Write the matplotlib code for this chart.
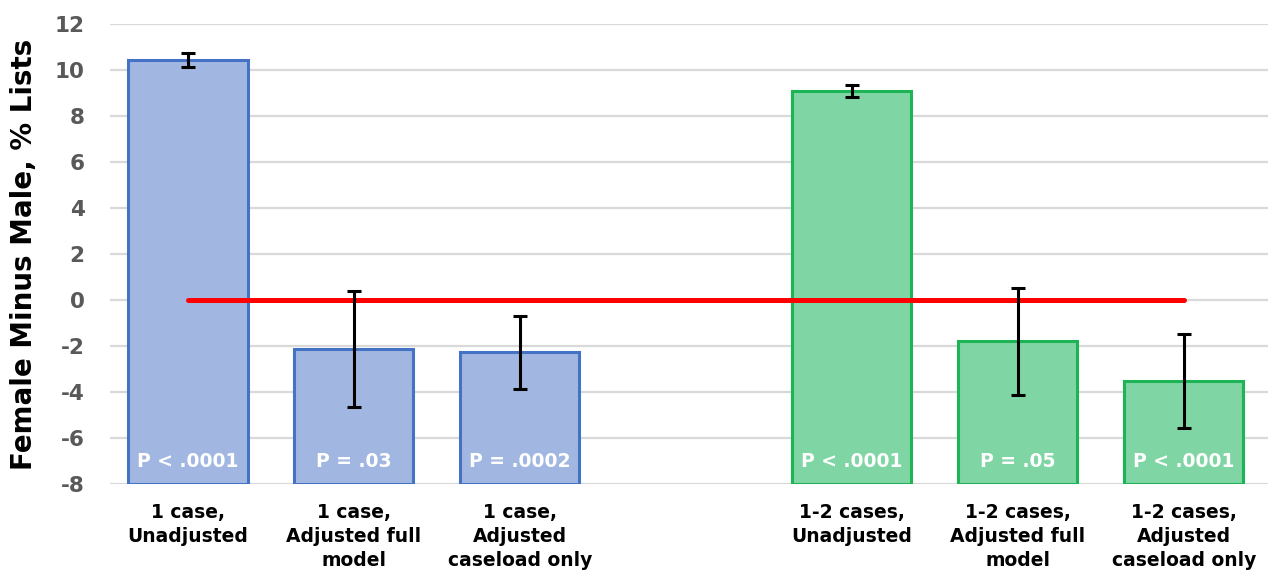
import matplotlib.pyplot as plt
import numpy as np

# slot 4 is the empty gap between the two groups
categories = ["1 case,\nUnadjusted", "1 case,\nAdjusted full\nmodel",
              "1 case,\nAdjusted\ncaseload only", "",
              "1-2 cases,\nUnadjusted", "1-2 cases,\nAdjusted full\nmodel",
              "1-2 cases,\nAdjusted\ncaseload only"]
values = [10.43, -2.13, -2.28, None, 9.09, -1.80, -3.52]
errors = [0.30, 2.52, 1.58, None, 0.26, 2.33, 2.05]
p_labels = ["P < .0001", "P = .03", "P = .0002", "",
            "P < .0001", "P = .05", "P < .0001"]
groups = ["blue", "blue", "blue", None, "green", "green", "green"]

ymin, ymax = -8, 12
styles = {"blue": ("#a1b7e1", "#4472c4"), "green": ("#7fd6a4", "#1db455")}

plt.rcParams['font.family'] = ['DejaVu Sans']
plt.rcParams['axes.unicode_minus'] = False
fig = plt.figure(figsize=(12.76, 5.76), dpi=100)
ax = fig.add_axes([0.086, 0.16, 0.908, 0.798])

x = np.arange(len(categories))
for xi, v, e, p, g in zip(x, values, errors, p_labels, groups):
    if v is None:
        continue
    face, edge = styles[g]
    ax.bar(xi, v - ymin, bottom=ymin, width=0.72, color=face,
           edgecolor=edge, linewidth=2.2, zorder=2)
    ax.errorbar(xi, v, yerr=e, fmt='none', ecolor='black', elinewidth=2.2,
                capsize=4.7, capthick=2.2, zorder=4)
    ax.text(xi, -6.93, p, color='white', fontsize=13.5, fontweight='bold',
            ha='center', va='center_baseline', zorder=5)

ax.plot([x[0], x[-1]], [0, 0], color='#ff0000', lw=3.6, zorder=3,
        solid_capstyle='round')

ax.set_ylim(ymin, ymax)
ax.set_xlim(-0.47, 6.51)
ax.set_yticks(np.arange(ymin, ymax + 1, 2))
ax.yaxis.grid(True, color='#d9d9d9', linewidth=1.6, zorder=0)
ax.set_axisbelow(True)
for s in ax.spines.values():
    s.set_visible(False)
ax.tick_params(axis='both', length=0)
ax.tick_params(axis='y', labelsize=15.5, labelcolor='#595959', pad=18)
for lab in ax.get_yticklabels():
    lab.set_fontweight('bold')
ax.set_xticks(x)
ax.set_xticklabels(categories, fontsize=13.5, fontweight='bold',
                   linespacing=1.32, va='top')
ax.tick_params(axis='x', pad=14)
ax.set_ylabel("Female Minus Male, % Lists", fontsize=20, fontweight='bold',
              labelpad=12)

fig.savefig("out.png", dpi=100)
